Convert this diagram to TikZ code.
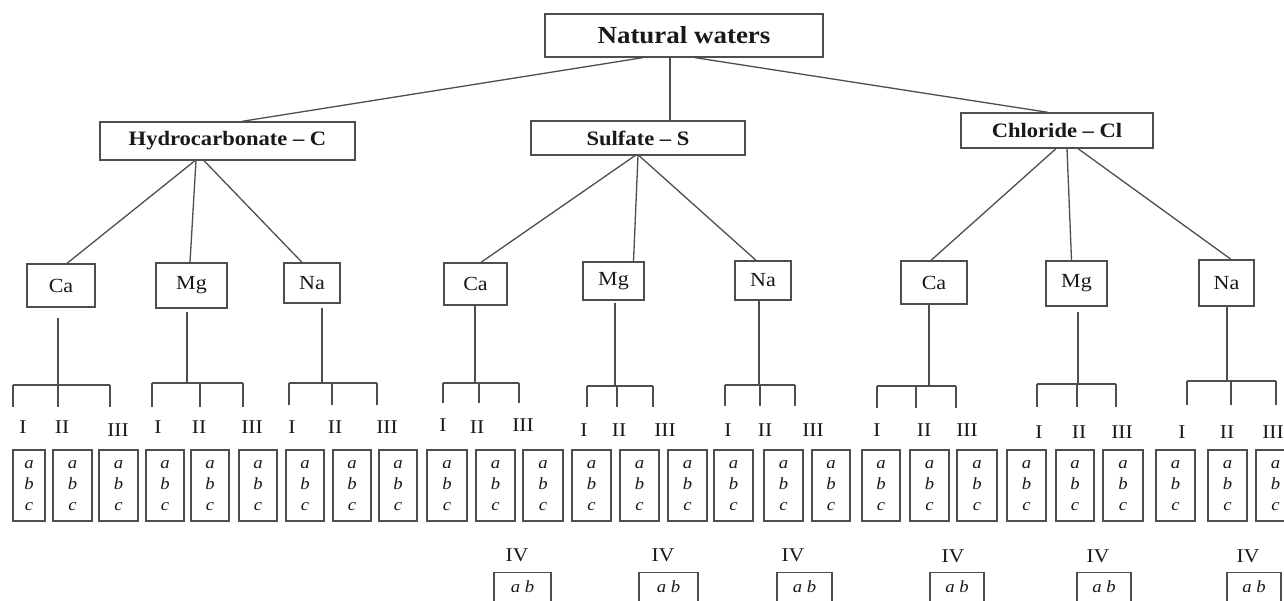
\documentclass[tikz,border=0pt]{standalone}
\usepackage{fontspec}
\setmainfont{Liberation Serif}[FakeStretch=1.1]
\usetikzlibrary{calc}
\definecolor{ln}{RGB}{78,78,78}
\definecolor{tx}{RGB}{25,25,25}
\tikzset{
  box/.style={draw=ln, line width=1.3pt, inner sep=0pt, text=tx},
  conn/.style={draw=ln, line width=1.3pt},
  topfont/.style={font=\bfseries\fontsize{24.5}{28}\selectfont},
  midfont/.style={font=\bfseries\fontsize{20.5}{24}\selectfont},
  ionfont/.style={font=\fontsize{20}{24}\selectfont},
  romfont/.style={font=\fontsize{19.5}{22}\selectfont, text=tx, inner sep=0pt},
  abcbox/.style={box, align=center, font=\itshape\fontsize{17}{21}\selectfont},
  abbox/.style={box, anchor=north, font=\itshape\fontsize{17}{20}\selectfont,
    text height=10pt, text depth=30pt, inner ysep=10pt, inner xsep=0pt},
}
% style, name, x1, y1, x2, y2, text
\newcommand\bnode[7]{%
  \node[box,#1,minimum width={(#5-#3)*1pt},minimum height={(#6-#4)*1pt}]
    (#2) at ({(#3+#5)/2},{(#4+#6)/2}) {#7};}
% id, vertical x, vertical top, bar y, xa, xb, xc, drop end
\newcommand\grp[8]{%
  \coordinate (#1t) at (#2,#3);
  \coordinate (#1j) at (#2,#4);
  \coordinate (#1a) at (#5,#4);
  \coordinate (#1b) at (#6,#4);
  \coordinate (#1c) at (#7,#4);
  \coordinate (#1da) at (#5,#8);
  \coordinate (#1db) at (#6,#8);
  \coordinate (#1dc) at (#7,#8);
  \draw[conn] (#1t) -- (#1j);
  \draw[conn] (#1a) -- (#1c);
  \draw[conn] (#1a) -- (#1da);
  \draw[conn] (#1b) -- (#1db);
  \draw[conn] (#1c) -- (#1dc);}
\begin{document}
\begin{tikzpicture}[x=1pt,y=-1pt]
\fill[white] (0,0) rectangle (1284,601);
\useasboundingbox (0,0) rectangle (1284,601);

% level 0 and 1
\bnode{topfont}{nw}{545}{14}{823}{57}{Natural waters}
\bnode{midfont}{hc}{100}{122}{355}{160}{Hydrocarbonate -- C}
\bnode{midfont}{su}{531}{121}{745}{155}{Sulfate -- S}
\bnode{midfont}{cl}{961}{113}{1153}{148}{Chloride -- Cl}

% level 2
\bnode{ionfont}{hca}{27}{264}{95}{307}{Ca}
\bnode{ionfont}{hmg}{156}{263}{227}{308}{Mg}
\bnode{ionfont}{hna}{284}{263}{340}{303}{Na}
\bnode{ionfont}{sca}{444}{263}{507}{305}{Ca}
\bnode{ionfont}{smg}{583}{262}{644}{300}{Mg}
\bnode{ionfont}{sna}{735}{261}{791}{300}{Na}
\bnode{ionfont}{cca}{901}{261}{967}{304}{Ca}
\bnode{ionfont}{cmg}{1046}{261}{1107}{306}{Mg}
\bnode{ionfont}{cna}{1199}{260}{1254}{306}{Na}

% connectors level 0 -> 1
\draw[conn] ([xshift=-41pt]nw.south) -- ([xshift=14.5pt]hc.north);
\draw[conn] ([xshift=-14pt]nw.south) -- ([xshift=32pt]su.north);
\draw[conn] ([xshift=11pt]nw.south) -- ([xshift=-9pt]cl.north);

% connectors level 1 -> 2
\draw[conn] ([xshift=-32.5pt]hc.south) -- ([xshift=6pt]hca.north);
\draw[conn] ([xshift=-31.5pt]hc.south) -- ([xshift=-1.5pt]hmg.north);
\draw[conn] ([xshift=-23.5pt]hc.south) -- ([xshift=-10pt]hna.north);
\draw[conn] ([xshift=-3pt]su.south) -- ([xshift=5.5pt]sca.north);
\draw[conn] ([xshift=0pt]su.south) -- ([xshift=20pt]smg.north);
\draw[conn] ([xshift=1pt]su.south) -- ([xshift=-7pt]sna.north);
\draw[conn] ([xshift=-1pt]cl.south) -- ([xshift=-3pt]cca.north);
\draw[conn] ([xshift=10pt]cl.south) -- ([xshift=-5pt]cmg.north);
\draw[conn] ([xshift=21pt]cl.south) -- ([xshift=4.5pt]cna.north);

% brackets
\grp{g1}{58}{318}{385}{13}{58}{110}{407}
\grp{g2}{187}{312}{383}{152}{200}{243}{407}
\grp{g3}{322}{308}{383}{289}{332}{377}{405}
\grp{g4}{475}{305}{383}{443}{479}{519}{403}
\grp{g5}{615}{303}{386}{587}{617}{653}{407}
\grp{g6}{759}{300}{385}{725}{760}{795}{406}
\grp{g7}{929}{304}{386}{877}{916}{956}{408}
\grp{g8}{1078}{312}{384}{1037}{1077}{1116}{407}
\grp{g9}{1227}{306}{381}{1187}{1231}{1276}{405}

% roman numerals
\foreach \n/\x/\y/\t in {
  r1/23/427/I, r2/62/427/II, r3/118/430/III,
  r4/158/427/I, r5/199/427/II, r6/252/427/III,
  r7/292/427/I, r8/335/427/II, r9/387/427/III,
  r10/443/425/I, r11/477/427/II, r12/523/425/III,
  r13/584/430/I, r14/619/430/II, r15/665/430/III,
  r16/728/430/I, r17/765/430/II, r18/813/430/III,
  r19/877/430/I, r20/924/430/II, r21/967/430/III,
  r22/1039/432/I, r23/1079/432/II, r24/1122/432/III,
  r25/1182/432/I, r26/1227/432/II, r27/1273/432/III}{
  \node[romfont] (\n) at (\x,\y) {\t};
}

% a b c boxes
\foreach \i/\xa/\xb in {
  1/13/45, 2/53/92, 3/99/138, 4/146/184, 5/191/229, 6/239/277,
  7/286/324, 8/333/371, 9/379/417, 10/427/467, 11/476/515, 12/523/563,
  13/572/611, 14/620/659, 15/668/707, 16/714/753, 17/764/803, 18/812/850,
  19/862/900, 20/910/949, 21/957/997, 22/1007/1046, 23/1056/1094,
  24/1103/1143, 25/1156/1195, 26/1208/1247, 27/1256/1295}{
  \bnode{abcbox}{abc\i}{\xa}{450}{\xb}{521}{a\\b\\c}
}

% IV row
\foreach \n/\x/\y/\xa/\xb in {
  1/517/555/494/551, 2/663/555/639/698, 3/793/555/777/832,
  4/953/556/930/984, 5/1098/556/1077/1131, 6/1248/556/1227/1281}{
  \node[romfont] (iv\n) at (\x,\y) {IV};
  \node[abbox, minimum width={(\xb-\xa)*1pt}] (ivb\n) at ({(\xa+\xb)/2},572) {a b};
}
\end{tikzpicture}
\end{document}
